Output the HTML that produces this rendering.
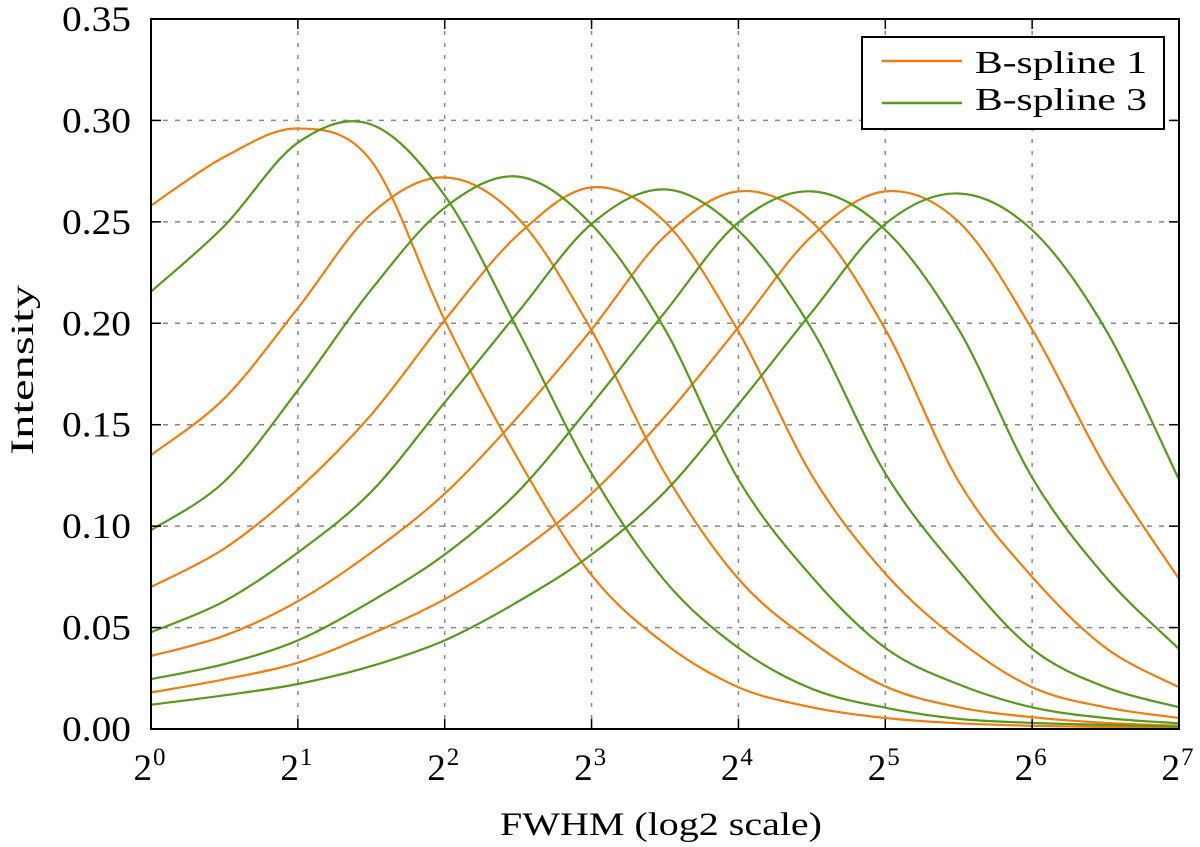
<!DOCTYPE html>
<html><head><meta charset="utf-8"><style>
html,body{margin:0;padding:0;background:#fff;}
svg text{font-family:"Liberation Serif",serif;fill:#000;}
</style></head><body>
<svg id="chart" width="1200" height="842" viewBox="0 0 1200 842" xmlns="http://www.w3.org/2000/svg">
<g id="grid"></g>
<g id="series"></g>
<rect x="151" y="19" width="1028" height="710" fill="none" stroke="#000" stroke-width="2"/>
<g id="ticks"></g>
<text x="500" y="835" font-size="33" textLength="322" lengthAdjust="spacingAndGlyphs">FWHM (log2 scale)</text>
<text transform="translate(33,455) rotate(-90)" font-size="33" textLength="170" lengthAdjust="spacingAndGlyphs">Intensity</text>
<g>
<rect x="862" y="37" width="302" height="92" fill="#fff" stroke="#000" stroke-width="2"/>
<line x1="882" y1="61" x2="962" y2="61" stroke="#f07d0e" stroke-width="2.5"/>
<text x="975" y="73" font-size="32" textLength="172" lengthAdjust="spacingAndGlyphs">B-spline 1</text>
<line x1="882" y1="103" x2="962" y2="103" stroke="#56991b" stroke-width="2.5"/>
<text x="975" y="110" font-size="32" textLength="172" lengthAdjust="spacingAndGlyphs">B-spline 3</text>
</g>
</svg>
<script>
const xSamples = [0,0.5,1,1.5,2,2.5,3,3.5,4,4.5,5,5.5,6,6.5,7];
const yTicks = [0,0.05,0.10,0.15,0.20,0.25,0.30,0.35];
const yTickLabels = ["0.00","0.05","0.10","0.15","0.20","0.25","0.30","0.35"];
const xTicks = [0,1,2,3,4,5,6,7];
const orange1 = [0.258,0.282,0.296,0.280,0.2015,0.133,0.0758,0.042,0.0206,0.0107,0.0054,0.0028,0.0016,0.001,0.0008];
const orange2 = [0.135,0.163,0.2075,0.254,0.2719,0.2518,0.1965,0.126,0.074,0.043,0.021,0.0107,0.0058,0.003,0.0016];
const orange3 = [0.070,0.089,0.118,0.155,0.2015,0.2437,0.267,0.250,0.196,0.125,0.0766,0.0437,0.0206,0.0107,0.0054];
const orange4 = [0.036,0.046,0.063,0.087,0.116,0.154,0.197,0.243,0.265,0.250,0.197,0.122,0.075,0.040,0.0206];
const orange5 = [0.018,0.0245,0.0327,0.047,0.064,0.087,0.116,0.154,0.198,0.243,0.265,0.250,0.197,0.129,0.074];
const green1 = [0.2156,0.248,0.289,0.298,0.263,0.1965,0.126,0.073,0.040,0.0198,0.0105,0.005,0.003,0.002,0.0012];
const green2 = [0.098,0.122,0.167,0.2166,0.257,0.2723,0.2487,0.197,0.123,0.075,0.040,0.022,0.0107,0.0054,0.0028];
const green3 = [0.0477,0.063,0.087,0.117,0.161,0.2055,0.249,0.266,0.2457,0.197,0.126,0.078,0.0395,0.0206,0.0107];
const green4 = [0.0246,0.032,0.0437,0.063,0.086,0.117,0.160,0.2055,0.2497,0.265,0.246,0.197,0.124,0.075,0.0395];
const green5 = [0.012,0.0166,0.0222,0.031,0.0437,0.0628,0.086,0.117,0.160,0.2055,0.249,0.264,0.246,0.197,0.123];

const NS="http://www.w3.org/2000/svg";
const X0=151,X1=1179,Y0=729,Y1=19;
function xs(v){return X0+(v-0)/(7-0)*(X1-X0);}
function ys(v){return Y0-(v/0.35)*(Y0-Y1);}
function mk(tag,attrs,parent){const e=document.createElementNS(NS,tag);for(const k in attrs)e.setAttribute(k,attrs[k]);parent.appendChild(e);return e;}
const grid=document.getElementById('grid'),ticks=document.getElementById('ticks'),ser=document.getElementById('series');
yTicks.forEach((t,i)=>{
  if(i>0&&i<yTicks.length-1){const l=mk('line',{x1:X0,x2:X1,y1:ys(t),y2:ys(t),stroke:'#888','stroke-width':1.5,'stroke-dasharray':'5,7'},grid);
  
  }
  const tk=mk('line',{x1:X0,x2:X0+10,y1:ys(t),y2:ys(t),stroke:'#000','stroke-width':1.5},ticks);
  
  
  const tk2=mk('line',{x1:X1-10,x2:X1,y1:ys(t),y2:ys(t),stroke:'#000','stroke-width':1.5},ticks);
  
  
  const tx=mk('text',{x:62,y:ys(t)+12,'font-size':36,textLength:69,lengthAdjust:'spacingAndGlyphs'},ticks);
  tx.textContent=yTickLabels[i];
  
  
});
xTicks.forEach((t,i)=>{
  if(i>0&&i<xTicks.length-1){const l=mk('line',{x1:xs(t),x2:xs(t),y1:Y1,y2:Y0,stroke:'#888','stroke-width':1.5,'stroke-dasharray':'4,8'},grid);
  
  }
  const tk=mk('line',{x1:xs(t),x2:xs(t),y1:Y0-10,y2:Y0,stroke:'#000','stroke-width':1.5},ticks);
  
  
  const tk2=mk('line',{x1:xs(t),x2:xs(t),y1:Y1,y2:Y1+10,stroke:'#000','stroke-width':1.5},ticks);
  
  
  const tx=mk('text',{x:xs(t)+1,y:780,'font-size':37,'text-anchor':'end'},ticks);
  tx.textContent='2';
  
  
  const sp=mk('text',{x:xs(t)+2,y:765,'font-size':25},ticks);
  sp.textContent=String(t);
  
  
});
function path(vals){
  const p=vals.map((v,i)=>[xs(xSamples[i]),ys(v)]);
  let d='M'+p[0][0].toFixed(1)+','+p[0][1].toFixed(1);
  for(let i=0;i<p.length-1;i++){
    const a=p[Math.max(0,i-1)],b=p[i],c=p[i+1],e=p[Math.min(p.length-1,i+2)];
    const c1=[b[0]+(c[0]-a[0])/6,b[1]+(c[1]-a[1])/6],c2=[c[0]-(e[0]-b[0])/6,c[1]-(e[1]-b[1])/6];
    d+=' C'+c1.map(n=>n.toFixed(1))+' '+c2.map(n=>n.toFixed(1))+' '+c.map(n=>n.toFixed(1));
  }
  return d;
}
const oranges=[orange1,orange2,orange3,orange4,orange5];
const greens=[green1,green2,green3,green4,green5];
const clip=mk('clipPath',{id:'pc'},document.getElementById('chart'));
mk('rect',{x:X0,y:Y1,width:X1-X0,height:Y0-Y1},clip);
ser.setAttribute('clip-path','url(#pc)');
oranges.forEach((s,i)=>{const e=mk('path',{d:path(s),fill:'none',stroke:'#f07d0e','stroke-width':2.2},ser);
  
  });
greens.forEach((s,i)=>{const e=mk('path',{d:path(s),fill:'none',stroke:'#56991b','stroke-width':2.2},ser);
  
  });
</script>
</body></html>
